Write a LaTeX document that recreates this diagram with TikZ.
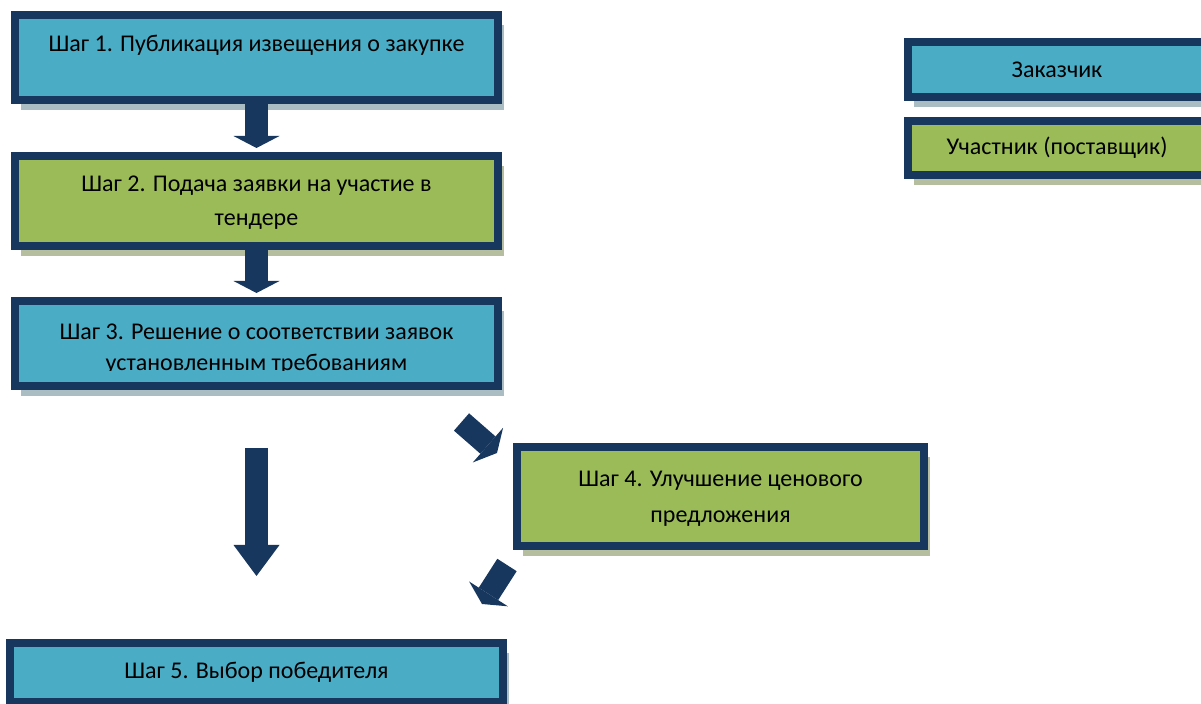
\documentclass[tikz,border=0pt]{standalone}
\usepackage{fontspec}
\setmainfont{Carlito}
\usetikzlibrary{arrows.meta,shadows,positioning}

\definecolor{boxblue}{HTML}{4BACC6}
\definecolor{boxgreen}{HTML}{9BBB59}
\definecolor{boxedge}{HTML}{17375E}
\definecolor{shadeblue}{HTML}{A9BDC3}
\definecolor{shadegreen}{HTML}{B6BEA0}

\tikzset{
  stepbox/.style={draw=boxedge, line width=4pt, inner sep=0pt, align=center,
    font=\fontsize{12}{17}\selectfont},
  bluebox/.style={stepbox, fill=boxblue,
    drop shadow={shadow xshift=3pt, shadow yshift=-5pt, opacity=1, fill=shadeblue}},
  greenbox/.style={stepbox, fill=boxgreen,
    drop shadow={shadow xshift=3pt, shadow yshift=-5pt, opacity=1, fill=shadegreen}},
  blockarrow/.style={draw=boxedge, line width=11.5pt,
    -{Triangle[length=6pt, width=23pt, line width=0pt 0]}},
  longhead/.style={-{Triangle[length=15.5pt, width=23pt, line width=0pt 0]}}
}

\begin{document}
\begin{tikzpicture}[x=0.5pt, y=-0.5pt]
  \useasboundingbox (0,0) rectangle (1201,704);

  \node[bluebox, minimum width=241.5pt, minimum height=42.5pt, text depth=14.5pt] (b1) at (256.5,57.5)
    {Шаг 1. Публикация извещения о закупке};
  \node[greenbox, minimum width=241.5pt, minimum height=45pt, text depth=-2.5pt] (b2) at (256.5,201)
    {Шаг 2. Подача заявки на участие в\\тендере};
  \node[bluebox, minimum width=241.5pt, minimum height=42.5pt] (b3) at (256.5,343.5) {};
  \begin{scope}
    \clip (0,297) rectangle (1201,371);
    \node[font=\fontsize{12}{15.5}\selectfont, align=center] (b3text) at (256.5,349)
      {Шаг 3. Решение о соответствии заявок\\установленным требованиям};
  \end{scope}
  \node[greenbox, minimum width=203.5pt, minimum height=49.5pt,
    font=\fontsize{12}{18}\selectfont, text depth=0pt] (b4) at (720.5,496.5)
    {Шаг 4. Улучшение ценового\\предложения};
  \node[bluebox, minimum width=246.5pt, minimum height=29.5pt] (b5) at (256.5,672.5)
    {Шаг 5. Выбор победителя};

  \node[bluebox, minimum width=149pt, minimum height=27.5pt] (customer) at (1057,69.5) {Заказчик};
  \node[greenbox, minimum width=149pt, minimum height=27pt] (supplier) at (1057,148) {Участник (поставщик)};

  \coordinate (d1start) at (461.5,422);
  \coordinate (d1end) at (497,453);
  \coordinate (d2start) at (507,565);
  \coordinate (d2end) at (482,604);

  \draw[blockarrow, shorten >=2pt] (b1) -- (b2);
  \draw[blockarrow, shorten >=2pt] (b2) -- (b3);
  \draw[blockarrow, longhead, shorten <=29pt, shorten >=31.5pt] (b3) -- (b5);
  \draw[blockarrow] (d1start) -- (d1end);
  \draw[blockarrow] (d2start) -- (d2end);
\end{tikzpicture}
\end{document}
